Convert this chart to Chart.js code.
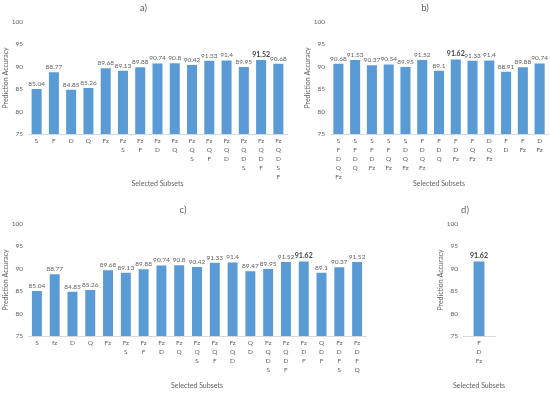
<!DOCTYPE html>
<html>
<head>
<meta charset="utf-8">
<script src="https://cdn.jsdelivr.net/npm/chart.js@4.4.1/dist/chart.umd.min.js"></script>
<style>
    html, body { margin: 0; padding: 0; background: #fff; width: 550px; height: 394px; overflow: hidden; }
    canvas { position: absolute; }
</style>
</head>
<body>
<canvas id="graficoA"></canvas>
<canvas id="graficoB"></canvas>
<canvas id="graficoC"></canvas>
<canvas id="graficoD"></canvas>
<script>
const panelTitles = ['a)', 'b)', 'c)', 'd)'];
const yTitle = 'Prediction Accuracy';
const xTitle = 'Selected Subsets';
const yMin = 75, yMax = 100, yStep = 5;

const subsetsA = ['S', 'F', 'D', 'Q', 'Fz', 'Fz S', 'Fz F', 'Fz D', 'Fz Q', 'Fz Q S', 'Fz Q F', 'Fz Q D', 'Fz Q D S', 'Fz Q D F', 'Fz Q D S F'];
const accuracyA = [85.04, 88.77, 84.85, 85.26, 89.68, 89.13, 89.88, 90.74, 90.8, 90.42, 91.33, 91.4, 89.95, 91.52, 90.68];

const subsetsB = ['S F D Q Fz', 'S F D Q', 'S F D Fz', 'S F Q Fz', 'S D Q Fz', 'F D Q Fz', 'F D Q', 'F D Fz', 'F Q Fz', 'D Q Fz', 'F D', 'F Fz', 'D Fz'];
const accuracyB = [90.68, 91.53, 90.37, 90.54, 89.95, 91.52, 89.1, 91.62, 91.33, 91.4, 88.91, 89.88, 90.74];

const subsetsC = ['S', 'fz', 'D', 'Q', 'Fz', 'Fz S', 'Fz F', 'Fz D', 'Fz Q', 'Fz Q S', 'Fz Q F', 'Fz Q D', 'Q D', 'Fz Q D S', 'Fz Q D F', 'Fz D F', 'Q D F', 'Fz D F S', 'Fz D F Q'];
const accuracyC = [85.04, 88.77, 84.85, 85.26, 89.68, 89.13, 89.88, 90.74, 90.8, 90.42, 91.33, 91.4, 89.47, 89.95, 91.52, 91.62, 89.1, 90.37, 91.52];

const subsetsD = ['F D Fz'];
const accuracyD = [91.62];

const fonte = 'Lato';
const cinza = '#626262';

// rótulos de valor acima das barras, o maior em negrito
const rotulosValor = {
    id: 'rotulosValor',
    afterDatasetsDraw(chart) {
        const ctx = chart.ctx;
        const valores = chart.data.datasets[0].data;
        const melhor = Math.max(...valores);
        ctx.save();
        ctx.textAlign = 'center';
        ctx.textBaseline = 'bottom';
        chart.getDatasetMeta(0).data.forEach((barra, i) => {
            const v = valores[i];
            if (v === melhor) {
                ctx.font = 'bold 7px ' + fonte;
                ctx.fillStyle = '#404040';
            } else {
                ctx.font = '6.5px ' + fonte;
                ctx.fillStyle = cinza;
            }
            ctx.fillText(String(v), barra.x, barra.y - 2);
        });
        ctx.restore();
    }
};

// título do eixo x sem compressão (o painel d é mais estreito que o texto)
const tituloEixoX = {
    id: 'tituloEixoX',
    afterDraw(chart) {
        const ctx = chart.ctx;
        const area = chart.chartArea;
        ctx.save();
        ctx.font = '7px ' + fonte;
        ctx.fillStyle = cinza;
        ctx.textAlign = 'center';
        ctx.textBaseline = 'middle';
        ctx.fillText(xTitle, (area.left + area.right) / 2, chart.height - 11);
        ctx.restore();
    }
};

function criarGrafico(id, left, top, width, titulo, subsets, valores, fracBarra, padDir) {
    const canvas = document.getElementById(id);
    canvas.width = width;
    canvas.height = 195;
    canvas.style.left = left + 'px';
    canvas.style.top = top + 'px';
    canvas.style.width = width + 'px';
    canvas.style.height = '195px';

    return new Chart(canvas.getContext('2d'), {
        type: 'bar',
        data: {
            labels: subsets.map(s => s.split(' ')),
            datasets: [{
                data: valores,
                backgroundColor: '#5B9BD5',
                barPercentage: fracBarra,
                categoryPercentage: 1
            }]
        },
        options: {
            responsive: false,
            animation: false,
            devicePixelRatio: 1,
            layout: { padding: { left: 0, right: padDir, top: 0, bottom: 0 } },
            plugins: {
                legend: { display: false },
                tooltip: { enabled: false },
                title: {
                    display: true,
                    text: titulo,
                    color: cinza,
                    font: { family: fonte, size: 9.5, weight: 'normal' },
                    padding: { top: 2.3, bottom: 8.3 }
                }
            },
            scales: {
                x: {
                    afterFit: (s) => { s.height = 61; },
                    grid: { display: false, drawTicks: false },
                    border: { display: true, color: '#d9d9d9', width: 1 },
                    ticks: {
                        color: cinza,
                        font: { family: fonte, size: 6.5, lineHeight: 1.35 },
                        autoSkip: false,
                        maxRotation: 0,
                        padding: 3
                    }
                },
                y: {
                    min: yMin,
                    max: yMax,
                    afterFit: (s) => { s.width = 28; },
                    grid: { display: false, drawTicks: false },
                    border: { display: false },
                    ticks: {
                        stepSize: yStep,
                        color: cinza,
                        font: { family: fonte, size: 6.5 },
                        padding: 5
                    },
                    title: {
                        display: true,
                        text: yTitle,
                        color: cinza,
                        font: { family: fonte, size: 7 },
                        padding: { top: 2, bottom: 2 }
                    }
                }
            }
        },
        plugins: [rotulosValor, tituloEixoX]
    });
}

criarGrafico('graficoA', 0, 0, 290, panelTitles[0], subsetsA, accuracyA, 0.58, 3);
criarGrafico('graficoB', 302, 0, 248, panelTitles[1], subsetsB, accuracyB, 0.6, 2);
criarGrafico('graficoC', 0, 202, 369, panelTitles[2], subsetsC, accuracyC, 0.56, 3);
criarGrafico('graficoD', 435, 202, 70, panelTitles[3], subsetsD, accuracyD, 0.34, 10);
</script>
</body>
</html>
